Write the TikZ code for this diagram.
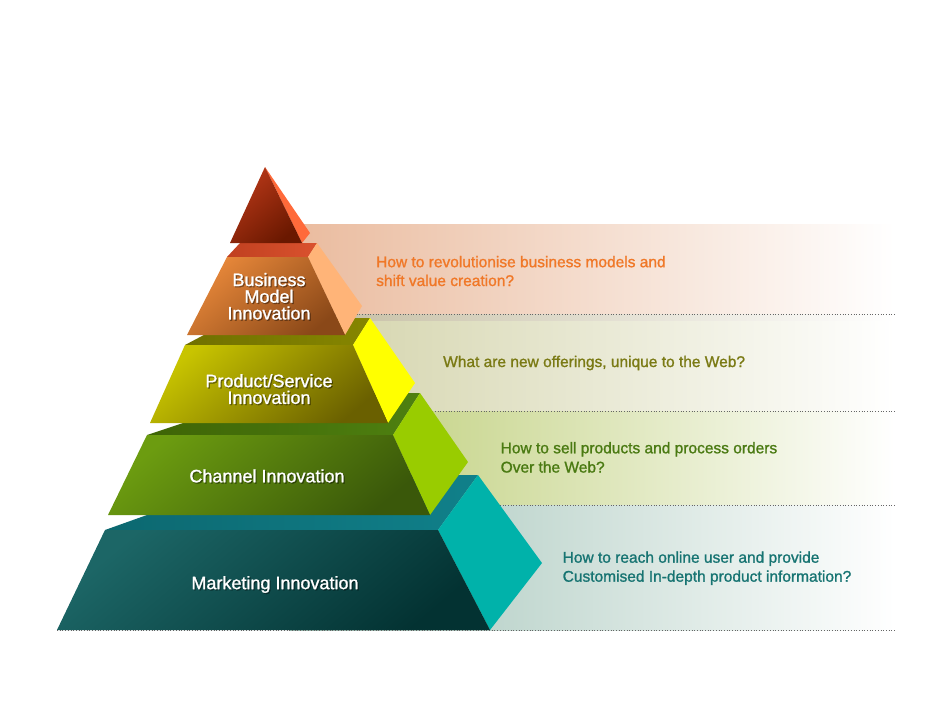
\documentclass[tikz,border=0pt]{standalone}
\usepackage{fontspec}
\setmainfont{Liberation Sans}[BoldFont=Liberation Sans, BoldFeatures={FakeBold=1.2}]
\usetikzlibrary{calc}
\definecolor{qorange}{HTML}{F07828}
\definecolor{qolive}{HTML}{7A7A14}
\definecolor{qgreen}{HTML}{4A7A12}
\definecolor{qteal}{HTML}{177472}
\tikzset{
	tiertext/.style={text=white, align=center, inner sep=0pt, font=\fontsize{18}{16.7}\selectfont\bfseries},
	tiershadow/.style={tiertext, text=black, opacity=0.35},
	question/.style={anchor=base west, inner sep=0pt, font=\fontsize{15.5}{18.7}\selectfont\bfseries},
	dotline/.style={dotted, color=black!60, line width=0.7pt}
}
\def\tierlabel(#1)(#2)#3{\node[tiershadow] (#1s) at ($(#2)+(1.2,1.2)$) {#3}; \node[tiertext] (#1) at (#2) {#3};}

\begin{document}
\begin{tikzpicture}[x=1pt, y=-1pt]
		%%%%% START %%%%%
		\useasboundingbox[fill=white] (0,0) rectangle (950,713);
		
		% bands behind the pyramid
		\shade[left color={rgb,255:red,234;green,187;blue,158}, middle color={rgb,255:red,224;green,210;blue,198}, right color=white] (290,224) rectangle (895,314);
		\shade[left color={rgb,255:red,196;green,188;blue,160}, middle color={rgb,255:red,208;green,204;blue,192}, right color=white] (290,314) rectangle (895,321);
		\shade[left color={rgb,255:red,210;green,210;blue,168}, middle color={rgb,255:red,220;green,218;blue,200}, right color=white] (290,321) rectangle (895,411);
		\shade[left color={rgb,255:red,186;green,203;blue,112}, middle color={rgb,255:red,204;green,206;blue,166}, right color=white] (290,411) rectangle (895,505);
		\shade[left color={rgb,255:red,160;green,194;blue,182}, middle color={rgb,255:red,188;green,200;blue,196}, right color=white] (290,505) rectangle (895,630);
		
		\draw[dotline] (300,314) -- (895,314);
		\draw[dotline] (300,411) -- (895,411);
		\draw[dotline] (300,505) -- (895,505);
		
		% marketing
		\shade[left color={rgb,255:red,12;green,104;blue,112}, right color={rgb,255:red,16;green,128;blue,138}] (105,530) -- (438,530) -- (478,475) -- (259,475) -- cycle;
		\fill[color={rgb,255:red,0;green,178;blue,170}] (438,530) -- (478,475) -- (542,563) -- (490,630) -- cycle;
		\shade[top color={rgb,255:red,28;green,102;blue,102}, bottom color={rgb,255:red,3;green,50;blue,50}, shading angle=40] (105,530) -- (438,530) -- (490,630) -- (57,630) -- cycle;
		
		% channel
		\shade[left color={rgb,255:red,62;green,100;blue,6}, right color={rgb,255:red,78;green,128;blue,16}] (147,435) -- (393,435) -- (420,393) -- (273,393) -- cycle;
		\fill[color={rgb,255:red,153;green,204;blue,0}] (393,435) -- (420,393) -- (468,462) -- (430,515) -- cycle;
		\shade[top color={rgb,255:red,108;green,156;blue,16}, bottom color={rgb,255:red,58;green,88;blue,10}, shading angle=40] (147,435) -- (393,435) -- (430,515) -- (108,515) -- cycle;
		
		% product / service
		\shade[left color={rgb,255:red,112;green,112;blue,0}, right color={rgb,255:red,134;green,134;blue,0}] (185,345) -- (353,345) -- (370,318) -- (236,318) -- cycle;
		\fill[color={rgb,255:red,255;green,255;blue,0}] (353,345) -- (370,318) -- (415,383) -- (388,423) -- cycle;
		\shade[top color={rgb,255:red,200;green,196;blue,0}, bottom color={rgb,255:red,106;green,96;blue,0}, shading angle=40] (185,345) -- (353,345) -- (388,423) -- (150,423) -- cycle;
		
		% business model
		\shade[left color={rgb,255:red,192;green,64;blue,32}, right color={rgb,255:red,218;green,82;blue,46}] (227,257) -- (308,257) -- (317,243) -- (240,243) -- cycle;
		\fill[color={rgb,255:red,255;green,180;blue,120}] (308,257) -- (317,243) -- (362,306) -- (345,335) -- cycle;
		\shade[top color={rgb,255:red,232;green,136;blue,58}, bottom color={rgb,255:red,138;green,72;blue,24}, shading angle=40] (227,257) -- (308,257) -- (345,335) -- (187,335) -- cycle;
		
		% apex
		\fill[color={rgb,255:red,255;green,106;blue,58}] (265,167) -- (310,233) -- (302,243) -- cycle;
		\shade[top color={rgb,255:red,184;green,56;blue,24}, bottom color={rgb,255:red,106;green,24;blue,0}, shading angle=40] (265,167) -- (302,243) -- (230,243) -- cycle;
		
		\draw[dotline] (57,630) -- (895,630);
		
		% tier names
		\tierlabel(business)(269,296.3){Business\\Model\\Innovation}
		\tierlabel(product)(269,389.1){Product/Service\\Innovation}
		\tierlabel(channel)(267,475.9){Channel Innovation}
		\tierlabel(marketing)(275,584.5){Marketing Innovation}
		
		% questions
		\node[question, text=qorange] (qbusinessa) at (376,267.2) {How to revolutionise business models and};
		\node[question, text=qorange] (qbusinessb) at (376,286) {shift value creation?};
		\node[question, text=qolive] (qproduct) at (443,367) {What are new offerings, unique to the Web?};
		\node[question, text=qgreen] (qchannela) at (500.5,453.3) {How to sell products and process orders};
		\node[question, text=qgreen] (qchannelb) at (500.5,472.5) {Over the Web?};
		\node[question, text=qteal] (qmarketinga) at (562.5,562.7) {How to reach online user and provide};
		\node[question, text=qteal] (qmarketingb) at (562.5,581.7) {Customised In-depth product information?};
		
		%%%%% END %%%%%
	\end{tikzpicture}
\end{document}
